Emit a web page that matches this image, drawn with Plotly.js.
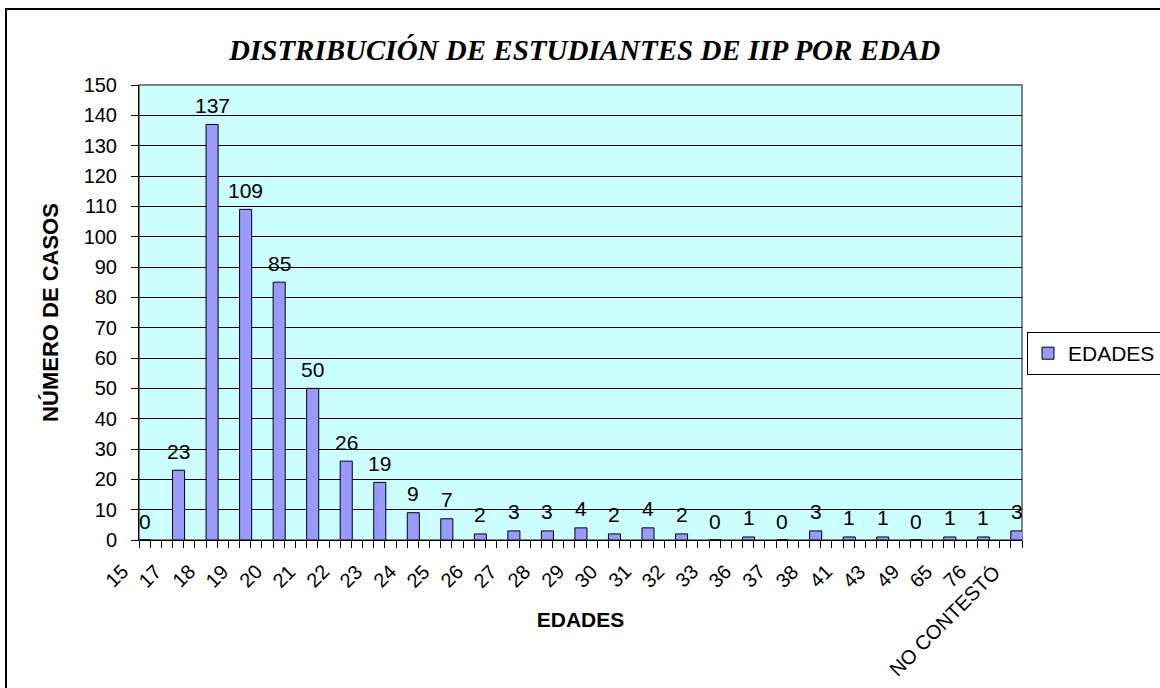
<!DOCTYPE html>
<html>
<head>
<meta charset="utf-8">
<script src="https://cdn.plot.ly/plotly-3.0.1.min.js"></script>
<style>
  html, body { margin: 0; padding: 0; background: #ffffff; }
  #wrap { position: relative; width: 1160px; height: 688px; overflow: hidden; }
  #frame { position: absolute; left: 5px; top: 8px; width: 1300px; height: 800px;
           border-left: 2px solid #000; border-top: 2px solid #000; pointer-events: none; }
  #chart { position: absolute; left: 0; top: 0; width: 1160px; height: 688px; }
</style>
</head>
<body>
<div id="wrap">
  <div id="chart"></div>
  <div id="frame"></div>
</div>
<script>
const categories = ["15","17","18","19","20","21","22","23","24","25","26","27","28","29","30","31","32","33","36","37","38","41","43","49","65","76","NO CONTESTÓ"];
const values = [0,23,137,109,85,50,26,19,9,7,2,3,3,4,2,4,2,0,1,0,3,1,1,0,1,1,3];
const seriesName = "EDADES";
const chartTitle = "DISTRIBUCIÓN DE ESTUDIANTES DE IIP POR EDAD";
const xTitle = "EDADES";
const yTitle = "NÚMERO DE CASOS";

const idx = categories.map((c, i) => i);
const barWidth = 0.36;
const xRange = [0, 79 / 3];
const sans = "Liberation Sans, Arial, sans-serif";

const trace = {
  type: "bar",
  name: seriesName,
  x: idx,
  y: values,
  width: barWidth,
  offset: 0,
  marker: { color: "#9999FF", line: { color: "#000000", width: 1 } },
  hoverinfo: "x+y"
};

// value labels above bars
const valueLabels = values.map((v, i) => ({
  x: i + barWidth / 2,
  y: v,
  xref: "x",
  yref: "y",
  text: String(v),
  showarrow: false,
  yanchor: "middle",
  yshift: 19,
  font: { family: sans, size: 21, color: "#000" }
}));

// rotated category labels under the axis (end of text just left of each group)
const categoryLabels = categories.map((c, i) => ({
  x: idx[i],
  y: 0,
  xref: "x",
  yref: "y",
  text: c,
  showarrow: false,
  textangle: -45,
  xanchor: "right",
  yanchor: "top",
  xshift: -4,
  yshift: -18,
  font: { family: sans, size: 20, color: "#000" }
}));

const layout = {
  width: 1160,
  height: 688,
  paper_bgcolor: "rgba(0,0,0,0)",
  plot_bgcolor: "#CCFFFF",
  margin: { l: 139, r: 138, t: 85, b: 148, autoexpand: false },
  title: {
    text: "<b><i>" + chartTitle + "</i></b>",
    font: { family: "Liberation Serif, Times New Roman, serif", size: 29, color: "#000" },
    x: 0.504, xanchor: "center", y: 0.928, yanchor: "middle"
  },
  xaxis: {
    range: xRange,
    tickmode: "linear",
    tick0: 0,
    dtick: 1 / 3,
    ticks: "outside",
    ticklen: 7,
    tickcolor: "#000",
    showticklabels: false,
    showgrid: false,
    zeroline: false,
    showline: true,
    linecolor: "#000",
    linewidth: 1,
    title: { text: "<b>" + xTitle + "</b>", font: { family: sans, size: 21, color: "#000" }, standoff: 65 },
    fixedrange: true
  },
  yaxis: {
    range: [0, 150],
    tickmode: "linear",
    tick0: 0,
    dtick: 10,
    ticks: "outside",
    ticklen: 7,
    tickcolor: "#000",
    ticklabelstandoff: 10,
    tickfont: { family: sans, size: 20, color: "#000" },
    showgrid: true,
    gridcolor: "#000",
    gridwidth: 1,
    zeroline: false,
    showline: true,
    linecolor: "#000",
    linewidth: 1,
    title: { text: "<b>" + yTitle + "</b>", font: { family: sans, size: 22, color: "#000" }, standoff: 18 },
    fixedrange: true
  },
  showlegend: true,
  legend: {
    x: (1027 - 139) / 883, y: 0.457, xanchor: "left", yanchor: "top",
    bgcolor: "#fff", bordercolor: "#000", borderwidth: 1,
    itemwidth: 30,
    font: { family: sans, size: 21, color: "#000" }
  },
  shapes: [{
    type: "rect", xref: "paper", yref: "paper", x0: 0, x1: 1, y0: 0, y1: 1,
    line: { color: "#808080", width: 2 }, layer: "below"
  }],
  annotations: valueLabels.concat(categoryLabels),
  bargap: 0
};

Plotly.newPlot("chart", [trace], layout, { displayModeBar: false, staticPlot: true });
</script>
</body>
</html>
